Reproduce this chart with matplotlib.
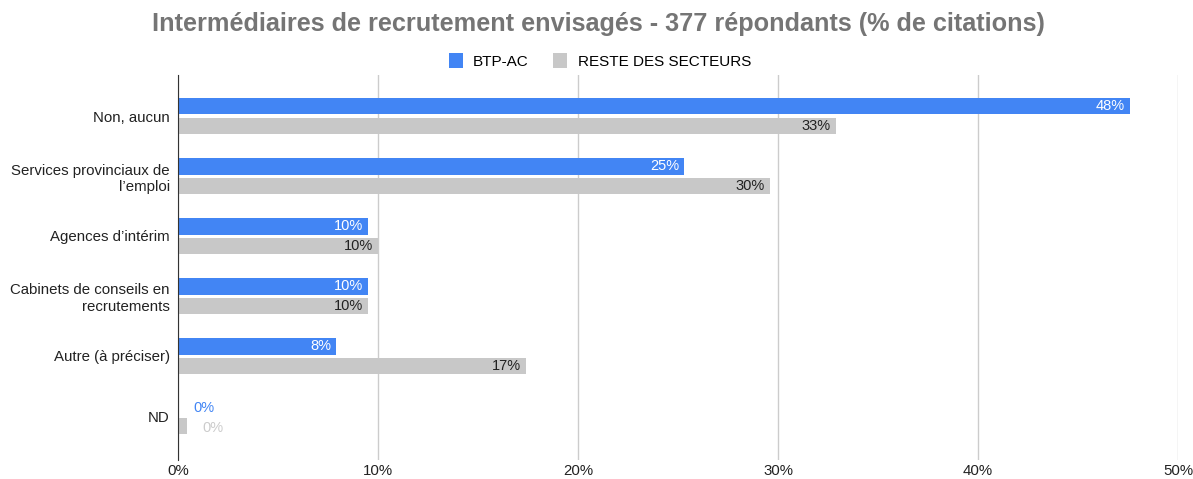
import numpy as np
import matplotlib.pyplot as plt

# data
categories = ["Non, aucun", "Services provinciaux de\nl\u2019emploi", "Agences d\u2019int\u00e9rim",
              "Cabinets de conseils en\nrecrutements", "Autre (\u00e0 pr\u00e9ciser)", "ND"]
btp = [47.6, 25.3, 9.5, 9.5, 7.9, 0.0]
reste = [32.9, 29.6, 10.0, 9.5, 17.4, 0.45]
xticks = [0, 10, 20, 30, 40, 50]

blue = "#4285f4"
grey = "#c8c8c8"

plt.rcParams['font.family'] = ['Liberation Sans', 'DejaVu Sans']

fig = plt.figure(figsize=(11.93, 4.79), dpi=100)
ax = fig.add_axes([178 / 1193, 1 - 460 / 479, 1000 / 1193, 385 / 479])

y = np.arange(len(categories))
h = 0.28
off = 0.165
ax.barh(y - off, btp, height=h, color=blue, label="BTP-AC", zorder=3)
ax.barh(y + off, reste, height=h, color=grey, label="RESTE DES SECTEURS", zorder=3)

pad = 0.25
for yi, v in zip(y, btp):
    lab = "%d%%" % round(v)
    if v > 3:
        ax.text(v - pad, yi - off, lab, ha="right", va="center", color="white", fontsize=10.5, zorder=4)
    else:
        ax.text(v + 0.75, yi - off + 0.03, lab, ha="left", va="center", color=blue, fontsize=10.5, zorder=4)
for yi, v in zip(y, reste):
    lab = "%d%%" % round(v)
    if v > 3:
        ax.text(v - pad, yi + off, lab, ha="right", va="center", color="#222222", fontsize=10.5, zorder=4)
    else:
        ax.text(v + 0.75, yi + off + 0.03, lab, ha="left", va="center", color="#cccccc", fontsize=10.5, zorder=4)

ax.set_xlim(0, 50)
ax.set_ylim(5 + 44 / 60, -41 / 60)
ax.set_xticks(xticks)
ax.set_xticklabels(["%d%%" % t for t in xticks], fontsize=10.8, color="#222222")
ax.set_yticks(y)
ax.set_yticklabels(categories, fontsize=10.8, color="#222222", ha="right")
ax.tick_params(axis="x", length=0, pad=3)
ax.tick_params(axis="y", length=0, pad=6)
ax.grid(axis="x", color="#cccccc", linewidth=1, zorder=0)
for s in ["top", "right", "bottom"]:
    ax.spines[s].set_visible(False)
ax.spines["left"].set_color("#333333")
ax.spines["left"].set_zorder(5)

fig.suptitle("Interm\u00e9diaires de recrutement envisag\u00e9s - 377 r\u00e9pondants (% de citations)",
             x=598 / 1193, y=1 - 24 / 479, va="center",
             fontsize=18.2, fontweight="bold", color="#757575")

fig.legend(loc="center", bbox_to_anchor=(600 / 1193, 1 - 61 / 479), ncol=2, frameon=False,
           fontsize=11, handlelength=0.9, handleheight=1.1, columnspacing=1.6,
           handletextpad=0.7)

fig.savefig("out.png", dpi=100)
